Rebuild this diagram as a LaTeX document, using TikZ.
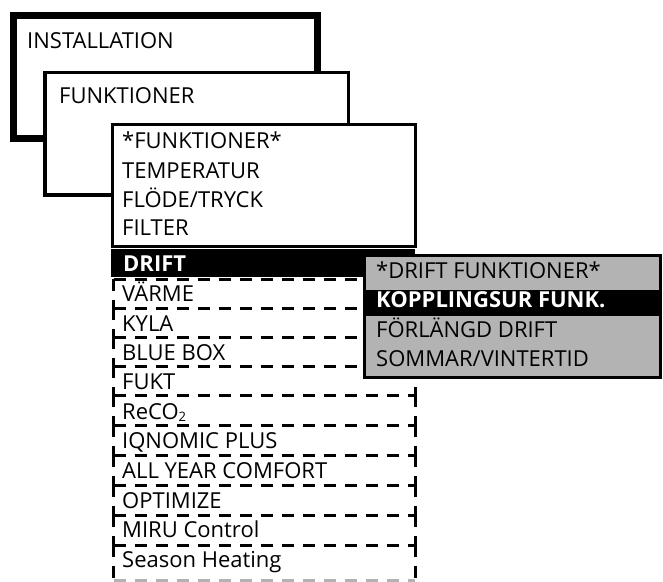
\documentclass[tikz,border=0pt]{standalone}
\usepackage{fontspec}
\setmainfont{Open Sans}
\definecolor{menugray}{HTML}{B3B3B3}
\tikzset{
  lbl/.style={anchor=base west, inner sep=0pt, font=\fontsize{22}{26}\selectfont},
  blbl/.style={lbl, font=\fontsize{22}{26}\selectfont\bfseries, text=white},
  dashline/.style={draw=black, line width=3pt, dash pattern=on 12pt off 9pt},
}
\begin{document}
\begin{tikzpicture}[x=1pt,y=-1pt]
\useasboundingbox (0,0) rectangle (663,581);
\begin{scope}
\clip (0,0) rectangle (663,581);
% INSTALLATION box
\draw[line width=7pt, fill=white] (13,15.5) rectangle (317,138.5);
\node[lbl] (inst) at (27,48) {INSTALLATION};
% FUNKTIONER box
\draw[line width=3.2pt, fill=white] (45,72.5) rectangle (348.5,195);
\node[lbl] (funk) at (59,103) {FUNKTIONER};
% functions list box
\draw[line width=3.2pt, fill=white] (112.5,124.5) rectangle (415.5,246.5);
\node[lbl] (f0) at (122,148) {*FUNKTIONER*};
\node[lbl] (f1) at (122,178) {TEMPERATUR};
\node[lbl] (f2) at (122,207) {FLÖDE/TRYCK};
\node[lbl] (f3) at (122,235) {FILTER};
% DRIFT bar
\fill[black] (111,249) rectangle (415,277);
\node[blbl] (drift) at (123,271) {DRIFT};
% dashed rows: horizontal lines once, vertical sides per row
\foreach \y in {279,308,337,366,395,425,455,485,515,545}{
  \draw[dashline] (113.5,\y) -- (415,\y);
}
\draw[dashline, draw=black!30] (113.5,580.5) -- (415,580.5);
\foreach \t/\b in {279/308,308/337,337/366,366/395,395/425,425/455,455/485,485/515,515/545,545/581}{
  \draw[dashline] (113.5,\t) -- (113.5,\b);
  \draw[dashline] (415,\t) -- (415,\b);
}
\node[lbl] (r1) at (122,301) {VÄRME};
\node[lbl] (r2) at (122,331) {KYLA};
\node[lbl] (r3) at (122,360) {BLUE BOX};
\node[lbl] (r4) at (122,389) {FUKT};
\node[lbl] (r5) at (122,419) {ReCO\raisebox{-0.2ex}{\fontsize{13}{15}\selectfont 2}};
\node[lbl] (r6) at (122,448) {IQNOMIC PLUS};
\node[lbl] (r7) at (122,478) {ALL YEAR COMFORT};
\node[lbl] (r8) at (122,508) {OPTIMIZE};
\node[lbl] (r9) at (122,537) {MIRU Control};
\node[lbl] (r10) at (122,567) {Season Heating};
% gray submenu
\draw[line width=3pt, fill=menugray] (364.5,255.5) rectangle (660.5,377);
\fill[black] (366,290) rectangle (659,316);
\node[lbl] (s0) at (376,278) {*DRIFT FUNKTIONER*};
\node[blbl] (s1) at (376,307) {KOPPLINGSUR FUNK.};
\node[lbl] (s2) at (376,337) {FÖRLÄNGD DRIFT};
\node[lbl] (s3) at (376,366) {SOMMAR/VINTERTID};
\end{scope}
\end{tikzpicture}
\end{document}
